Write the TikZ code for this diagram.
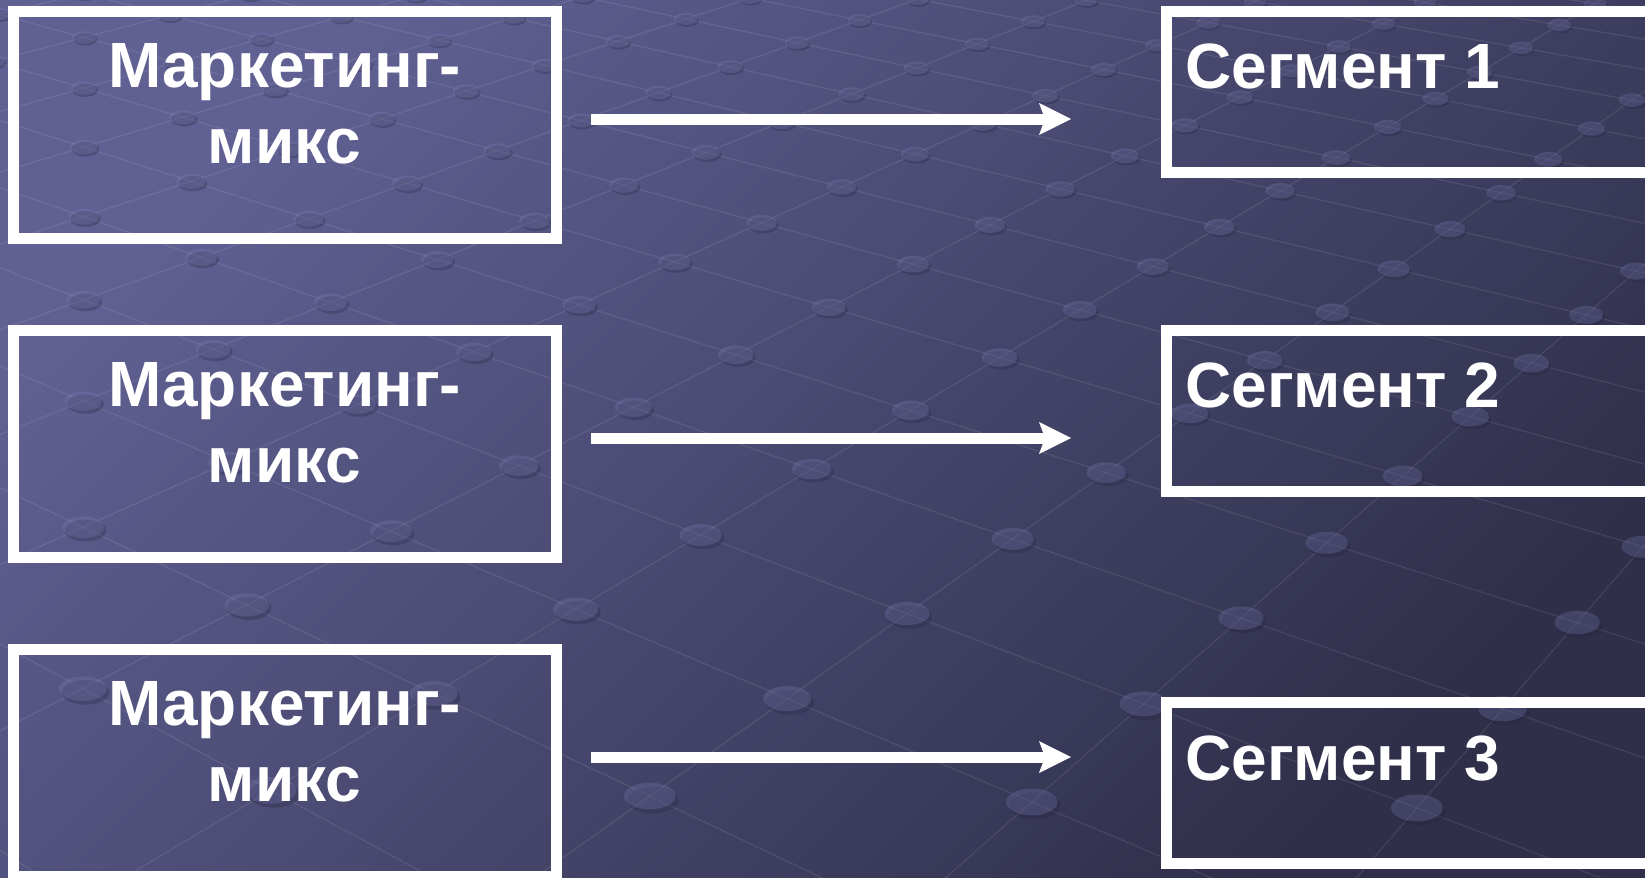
\documentclass[tikz,border=0pt]{standalone}
\usepackage{fontspec}
\setmainfont{Liberation Sans}
\usetikzlibrary{arrows.meta}
\definecolor{bgtl}{HTML}{606093}
\definecolor{bgbr}{HTML}{2F2F4A}
\definecolor{dotlight}{HTML}{8080B8}
\definecolor{dotdark}{HTML}{252540}
\tikzset{
  frame/.style={draw=white, line width=5.5pt, inner sep=0pt, outer sep=0pt},
  mixbox/.style={frame, minimum width=271.35pt, minimum height=113.8pt},
  segbox/.style={frame, minimum width=244.25pt, minimum height=80.5pt},
  lbl/.style={text=white, font=\bfseries\fontsize{32pt}{38pt}\selectfont,
              align=center, inner sep=0pt, anchor=north},
  seglbl/.style={text=white, font=\bfseries\fontsize{32pt}{38pt}\selectfont,
                 inner sep=0pt, anchor=north west},
  arr/.style={draw=white, line width=5.5pt,
              -{Stealth[length=16pt, width=16pt, inset=3pt, line width=0pt]}},
  gridline/.style={draw=white, draw opacity=0.09, line width=0.6pt}
}
% lattice on a tilted plane: (p,q) plane coordinates, projected to the page
\newcommand\latP{0.6018}
\newcommand\latQ{0.9009}
\begin{document}
\begin{tikzpicture}[x=0.5pt, y=-0.5pt]
\useasboundingbox (0,0) rectangle (1645,878);
\clip (0,0) rectangle (1645,878);
% diagonal background gradient
\shade[top color=bgtl, bottom color=bgbr, shading angle=45] (0,0) rectangle (1645,878);

% faint lattice lines
\foreach \i in {-12,...,7}{
  \foreach \j in {-7,...,18}{
    \pgfmathsetmacro\pp{\latP+\i*0.128+\j*0.137}
    \pgfmathsetmacro\qq{\latQ-\i*0.057+\j*0.054}
    \pgfmathtruncatemacro\ok{and(\qq>0.55,\qq<2.1)}
    \ifnum\ok=1
      \pgfmathsetmacro\xx{1049*\pp/\qq}
      \pgfmathsetmacro\yy{1049/\qq-629.4}
      \pgfmathsetmacro\pa{\pp+0.128}
      \pgfmathsetmacro\qa{\qq-0.057}
      \pgfmathsetmacro\pb{\pp+0.137}
      \pgfmathsetmacro\qb{\qq+0.054}
      \pgfmathtruncatemacro\oka{\qa>0.5}
      \ifnum\oka=1
        \pgfmathsetmacro\xa{1049*\pa/\qa}
        \pgfmathsetmacro\ya{1049/\qa-629.4}
        \draw[gridline] (\xx,\yy) -- (\xa,\ya);
      \fi
      \pgfmathsetmacro\xb{1049*\pb/\qb}
      \pgfmathsetmacro\yb{1049/\qb-629.4}
      \draw[gridline] (\xx,\yy) -- (\xb,\yb);
    \fi
  }
}
% raised bumps at the crossings
\foreach \i in {-12,...,7}{
  \foreach \j in {-7,...,18}{
    \pgfmathsetmacro\pp{\latP+\i*0.128+\j*0.137}
    \pgfmathsetmacro\qq{\latQ-\i*0.057+\j*0.054}
    \pgfmathtruncatemacro\ok{and(\qq>0.55,\qq<2.1)}
    \ifnum\ok=1
      \pgfmathsetmacro\xx{1049*\pp/\qq}
      \pgfmathsetmacro\yy{1049/\qq-629.4}
      \pgfmathsetmacro\rx{18.9/\qq}
      \pgfmathsetmacro\ry{0.52*\rx}
      \fill[dotdark, opacity=0.30] (\xx+0.12*\rx,\yy+0.3*\ry) ellipse [x radius=\rx, y radius=\ry];
      \fill[dotlight, opacity=0.28] (\xx,\yy) ellipse [x radius=\rx, y radius=\ry];
    \fi
  }
}

% marketing-mix boxes
\node[mixbox] (m1) at (284.7,125) {};
\node[mixbox] (m2) at (284.7,444) {};
\node[mixbox] (m3) at (284.7,763) {};
\node[lbl] (t1) at (284.7,43) {Маркетинг-\\микс};
\node[lbl] (t2) at (284.7,362) {Маркетинг-\\микс};
\node[lbl] (t3) at (284.7,681) {Маркетинг-\\микс};

% segment boxes
\node[segbox] (g1) at (1410.75,92) {};
\node[segbox] (g2) at (1410.75,411) {};
\node[segbox] (g3) at (1410.75,783) {};
\node[seglbl] (s1) at (1185,43) {Сегмент 1};
\node[seglbl] (s2) at (1185,362) {Сегмент 2};
\node[seglbl] (s3) at (1185,735) {Сегмент 3};

% arrows
\coordinate (a1) at (591,119);  \coordinate (b1) at (1071,119);
\coordinate (a2) at (591,438);  \coordinate (b2) at (1071,438);
\coordinate (a3) at (591,757);  \coordinate (b3) at (1071,757);
\draw[arr] (a1) -- (b1);
\draw[arr] (a2) -- (b2);
\draw[arr] (a3) -- (b3);
\end{tikzpicture}
\end{document}
